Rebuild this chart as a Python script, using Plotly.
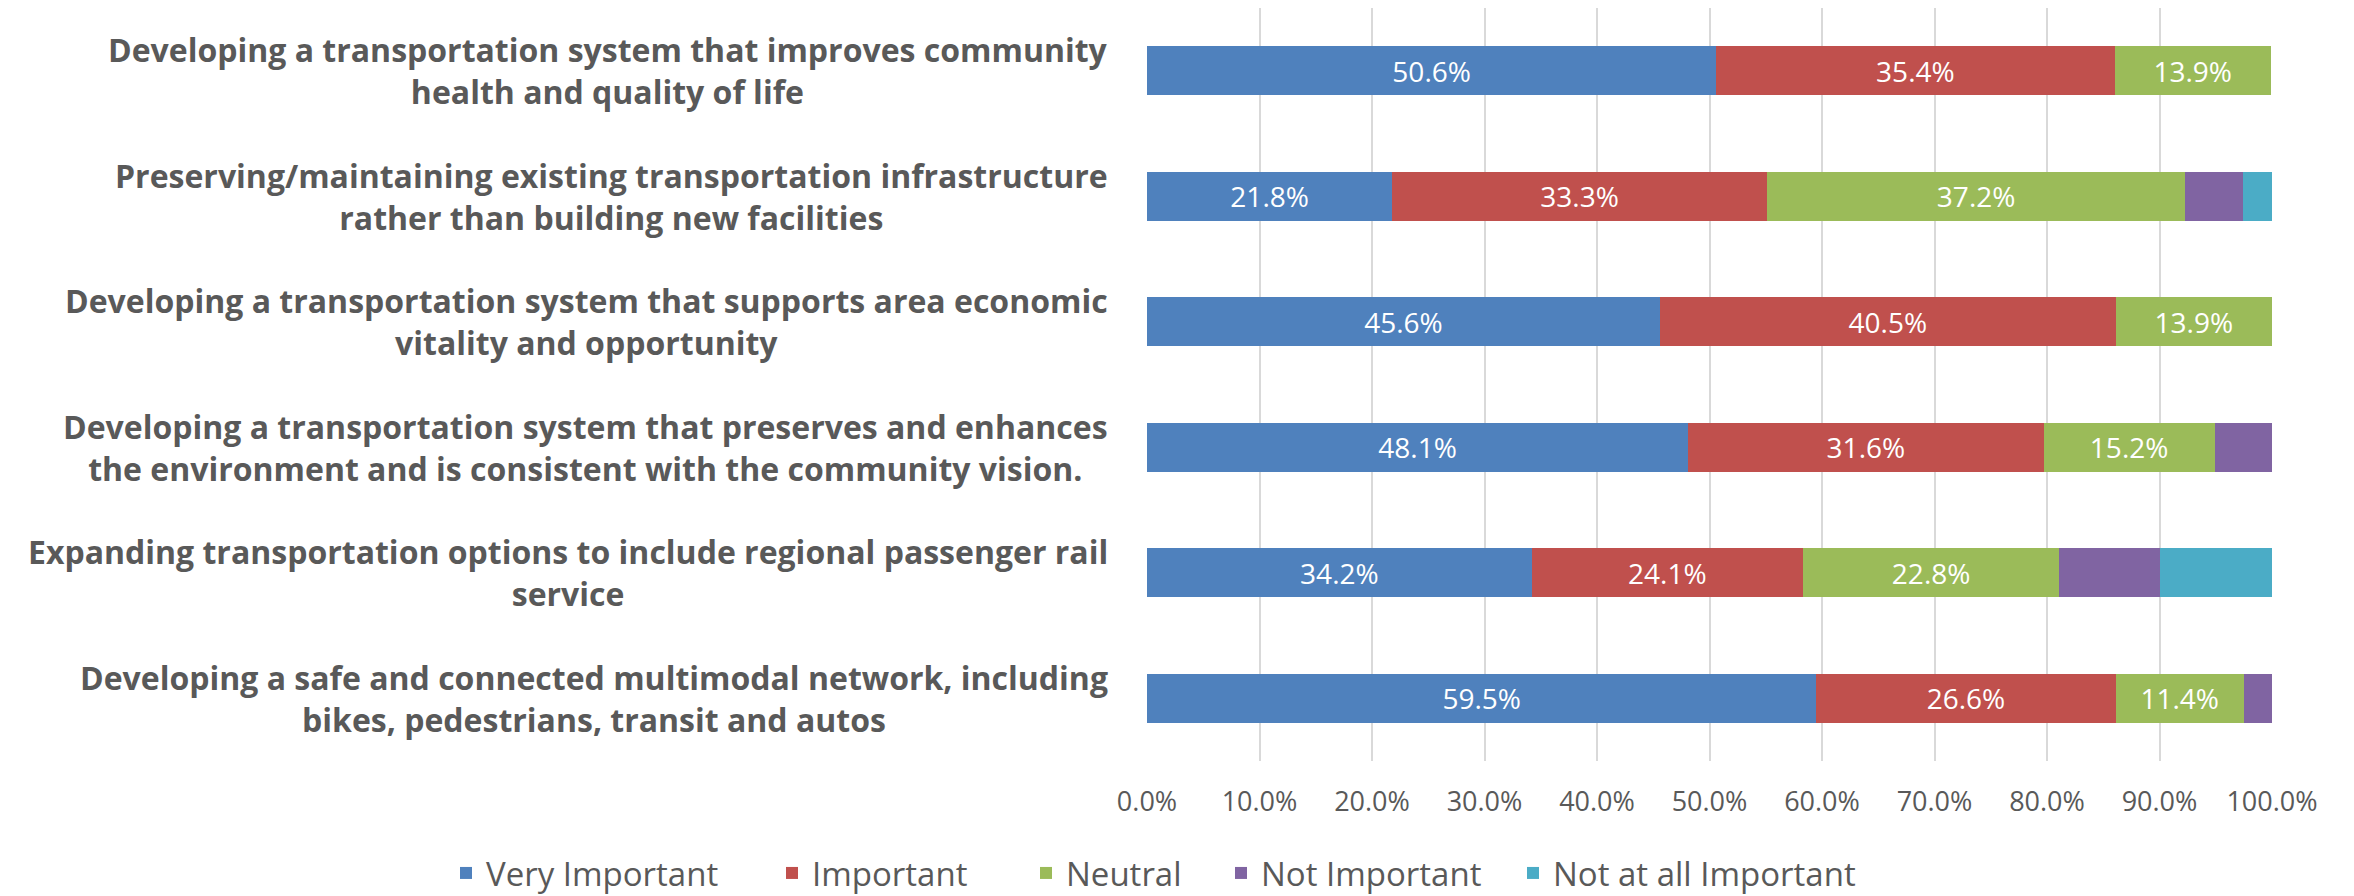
import plotly.graph_objects as go

categories = [
    "Developing a transportation system that improves community<br>health and quality of life",
    "Preserving/maintaining existing transportation infrastructure<br>rather than building new facilities",
    "Developing a transportation system that supports area economic<br>vitality and opportunity",
    "Developing a transportation system that preserves and enhances<br>the environment and is consistent with the community vision.",
    "Expanding transportation options to include regional passenger rail<br>service",
    "Developing a safe and connected multimodal network, including<br>bikes, pedestrians, transit and autos",
]

series_names = ["Very Important", "Important", "Neutral", "Not Important", "Not at all Important"]
very_important = [50.6, 21.8, 45.6, 48.1, 34.2, 59.5]
important = [35.4, 33.3, 40.5, 31.6, 24.1, 26.6]
neutral = [13.9, 37.2, 13.9, 15.2, 22.8, 11.4]
not_important = [0.0, 5.1, 0.0, 5.1, 8.9, 2.5]
not_at_all = [0.0, 2.6, 0.0, 0.0, 10.1, 0.0]
show_labels = [True, True, True, False, False]

x_ticks = [0, 10, 20, 30, 40, 50, 60, 70, 80, 90, 100]

colors = ["#4F81BD", "#C0504D", "#9BBB59", "#8064A2", "#4BACC6"]
values = [very_important, important, neutral, not_important, not_at_all]

# legend entry text start positions (page pixels)
legend_text_x = [486, 812, 1066, 1261, 1553]

FONT = "Open Sans"
TXT = "#595959"

W, H = 2354, 896
OFF = 8  # page body margin
L, R, T, B = 1147 - OFF, 82 + OFF, 0, 135 + OFF
plot_w = W - L - R
plot_h = H - T - B

fig = go.Figure()
ids = list(range(len(categories)))
legend_ids = ["legend"] + [f"legend{k}" for k in range(2, len(series_names) + 1)]
for name, vals, col, lab, lid in zip(series_names, values, colors, show_labels, legend_ids):
    fig.add_trace(go.Bar(
        name=name,
        y=ids,
        x=vals,
        orientation="h",
        marker=dict(color=col, line=dict(width=0)),
        text=[f"{v:.1f}%" if (lab and v > 0) else "" for v in vals],
        textposition="inside",
        insidetextanchor="middle",
        textangle=0,
        textfont=dict(family=FONT, size=28, color="white"),
        constraintext="none",
        hoverinfo="skip",
        legend=lid,
    ))

# category labels: right-aligned block, lines centred within it
for i, cat in enumerate(categories):
    fig.add_annotation(
        x=0, xref="paper", y=i, yref="y",
        text=cat, showarrow=False, align="center",
        xanchor="right", yanchor="middle",
        xshift=-37,
        font=dict(family=FONT, size=32, color=TXT, weight=700),
    )

legend_y = -(873 - 761) / plot_h
layout_legends = {}
for lid, tx in zip(legend_ids, legend_text_x):
    layout_legends[lid] = dict(
        orientation="h",
        x=(tx - 40 - OFF - L) / plot_w, xanchor="left",
        y=legend_y, yanchor="middle",
        font=dict(family=FONT, size=33, color=TXT),
        itemclick=False, itemdoubleclick=False,
        bgcolor="rgba(0,0,0,0)",
    )

fig.update_layout(
    barmode="stack",
    bargap=0.61,
    width=W, height=H,
    margin=dict(l=L, r=R, t=T, b=B, pad=0, autoexpand=False),
    paper_bgcolor="white",
    plot_bgcolor="white",
    font=dict(family=FONT, color=TXT),
    showlegend=True,
    xaxis=dict(
        range=[0, 100],
        tickvals=x_ticks,
        ticktext=[f"{v:.1f}%" for v in x_ticks],
        showgrid=True, gridcolor="#D9D9D9", gridwidth=2,
        zeroline=False, showline=False,
        ticks="", ticklabelstandoff=22,
        tickfont=dict(family=FONT, size=27, color=TXT),
    ),
    yaxis=dict(
        range=[len(categories) - 0.5, -0.5],
        showticklabels=False, showgrid=False, zeroline=False,
        showline=False, ticks="",
    ),
    **layout_legends,
)

fig.write_html("out.html")
